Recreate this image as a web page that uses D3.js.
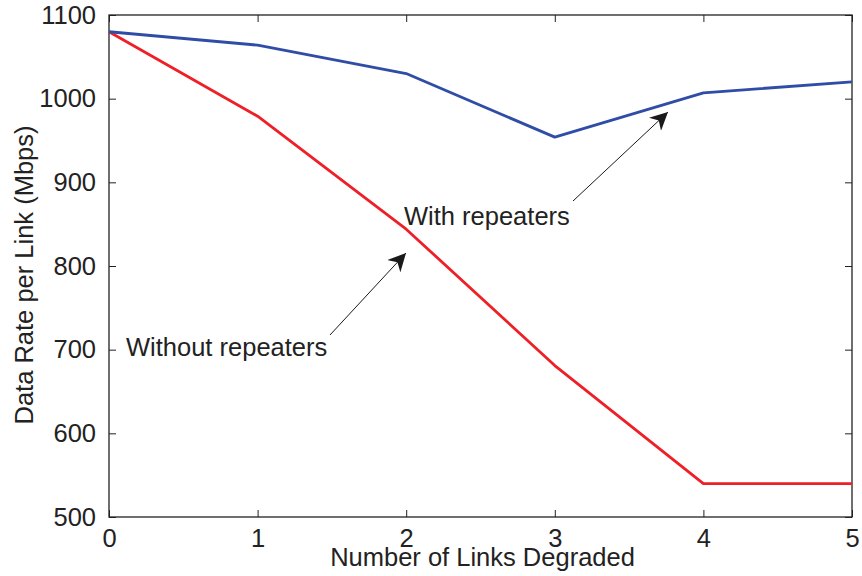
<!DOCTYPE html>
<html>
<head>
<meta charset="utf-8">
<script src="https://cdn.jsdelivr.net/npm/d3@7"></script>
<style>
  body { margin: 0; background: #fff; }
  svg { display: block; font-family: "Liberation Sans", Arial, Helvetica, sans-serif; }
</style>
</head>
<body>
<svg id="chart" width="862" height="576"></svg>
<script>
// Links degraded (x) and per-link data rate in Mbps for each configuration
const linksDegraded = [0, 1, 2, 3, 4, 5];
const withRepeaters = [1080, 1064, 1030, 954, 1007, 1020];
const withoutRepeaters = [1080, 979, 844, 681, 540, 540];
const xTicks = [0, 1, 2, 3, 4, 5];
const yTicks = [500, 600, 700, 800, 900, 1000, 1100];

const W = 862, H = 576;
const m = { left: 109, right: 10, top: 15, bottom: 59 };
const svg = d3.select("#chart");

const x = d3.scaleLinear().domain([0, 5]).range([m.left, W - m.right]);
const y = d3.scaleLinear().domain([500, 1100]).range([H - m.bottom, m.top]);

const axisColor = "#222";
const tickLen = 7;
const fontSize = "25.5px";

// Frame
svg.append("rect")
  .attr("x", x(0)).attr("y", y(1100))
  .attr("width", x(5) - x(0)).attr("height", y(500) - y(1100))
  .attr("fill", "none").attr("stroke", axisColor).attr("stroke-width", 1.3);

function styleAxis(g) {
  g.select(".domain").remove();
  g.selectAll(".tick line").attr("stroke", axisColor).attr("stroke-width", 1);
  g.selectAll(".tick text").attr("fill", "#222").style("font-size", fontSize)
    .style("font-family", "'Liberation Sans', Arial, sans-serif");
}

// Bottom axis with inward ticks
svg.append("g")
  .attr("transform", `translate(0,${y(500)})`)
  .call(d3.axisBottom(x).tickValues(xTicks).tickFormat(d3.format("d"))
    .tickSizeInner(-tickLen).tickSizeOuter(0).tickPadding(tickLen + 5))
  .call(styleAxis);

// Top mirrored ticks
svg.append("g")
  .attr("transform", `translate(0,${y(1100)})`)
  .call(d3.axisTop(x).tickValues(xTicks).tickFormat("")
    .tickSizeInner(-tickLen).tickSizeOuter(0))
  .call(styleAxis);

// Left axis with inward ticks
svg.append("g")
  .attr("transform", `translate(${x(0)},0)`)
  .call(d3.axisLeft(y).tickValues(yTicks).tickFormat(d3.format("d"))
    .tickSizeInner(-tickLen).tickSizeOuter(0).tickPadding(tickLen + 6))
  .call(styleAxis);

// Right mirrored ticks
svg.append("g")
  .attr("transform", `translate(${x(5)},0)`)
  .call(d3.axisRight(y).tickValues(yTicks).tickFormat("")
    .tickSizeInner(-tickLen).tickSizeOuter(0))
  .call(styleAxis);

// Series lines
const line = d3.line().x((d, i) => x(linksDegraded[i])).y(d => y(d));

svg.append("path")
  .datum(withoutRepeaters)
  .attr("d", line)
  .attr("fill", "none").attr("stroke", "#ee1f26").attr("stroke-width", 2.8)
  .attr("stroke-linejoin", "round");

svg.append("path")
  .datum(withRepeaters)
  .attr("d", line)
  .attr("fill", "none").attr("stroke", "#2f4da6").attr("stroke-width", 2.8)
  .attr("stroke-linejoin", "round");

// Axis titles
svg.append("text")
  .attr("x", (x(0) + x(5)) / 2 + 2).attr("y", 566)
  .attr("text-anchor", "middle").attr("fill", "#222")
  .style("font-size", fontSize)
  .text("Number of Links Degraded");

svg.append("text")
  .attr("transform", `translate(33,275) rotate(-90)`)
  .attr("text-anchor", "middle").attr("fill", "#222")
  .style("font-size", fontSize)
  .text("Data Rate per Link (Mbps)");

// Annotation arrows
const defs = svg.append("defs");
defs.append("marker")
  .attr("id", "arrowhead")
  .attr("viewBox", "0 0 10 10")
  .attr("refX", 10).attr("refY", 5)
  .attr("markerWidth", 18).attr("markerHeight", 18)
  .attr("markerUnits", "userSpaceOnUse")
  .attr("orient", "auto")
  .append("path")
  .attr("d", "M0,0 L10,5 L0,10 L3,5 Z")
  .attr("fill", "#1a1a1a");

const annotations = [
  { label: "With repeaters", tx: 404, ty: 225, from: [573, 201], to: [668, 112] },
  { label: "Without repeaters", tx: 126, ty: 356, from: [330, 335], to: [406, 253] }
];

annotations.forEach(a => {
  svg.append("line")
    .attr("x1", a.from[0]).attr("y1", a.from[1])
    .attr("x2", a.to[0]).attr("y2", a.to[1])
    .attr("stroke", "#1a1a1a").attr("stroke-width", 1)
    .attr("marker-end", "url(#arrowhead)");
  svg.append("text")
    .attr("x", a.tx).attr("y", a.ty)
    .attr("fill", "#222")
    .style("font-size", fontSize)
    .text(a.label);
});
</script>
</body>
</html>
